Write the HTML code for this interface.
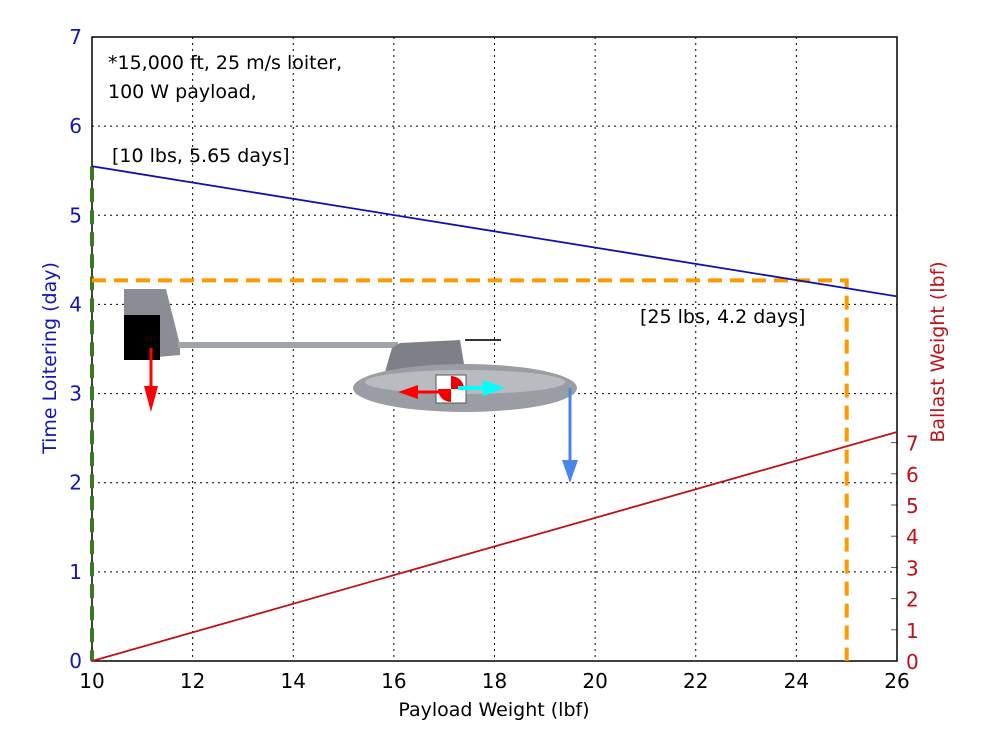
<!DOCTYPE html>
<html><head><meta charset="utf-8"><style>body{margin:0;background:#fff}svg{display:block;font-family:"DejaVu Sans","Liberation Sans",sans-serif}</style></head>
<body>
<svg id="c" width="1006" height="733"></svg>
<script>
const xTicks=[10,12,14,16,18,20,22,24,26];
const yTicks=[0,1,2,3,4,5,6,7];
const y2Ticks=[0,1,2,3,4,5,6,7];
const payload=[10,26];
const loiter=[5.55,4.09];
const ballast=[0,7.34];
const marker=[25,4.27];
const L=92,R=897,T=37,B=661;
const X=v=>L+(v-10)/16*(R-L);
const Y=v=>B-v/7*(B-T);
const Y2=v=>B-v/20*(B-T);
const s=document.getElementById('c');const NS='http://www.w3.org/2000/svg';
function mk(t,a,txt){const e=document.createElementNS(NS,t);for(const k in a)e.setAttribute(k,a[k]);if(txt!==undefined)e.textContent=txt;s.appendChild(e);return e;}
xTicks.forEach(v=>{let e=mk('line',{x1:X(v),x2:X(v),y1:T,y2:B,stroke:'#000','stroke-dasharray':'2,4','stroke-width':1});

e=mk('text',{x:X(v),y:B+27,'text-anchor':'middle','font-size':20,fill:'#000'},v);
});
yTicks.forEach(v=>{let e=mk('line',{x1:L,x2:R,y1:Y(v),y2:Y(v),stroke:'#000','stroke-dasharray':'2,4','stroke-width':1});

e=mk('text',{x:L-10,y:Y(v)+7,'text-anchor':'end','font-size':20,fill:'#1515b0'},v);
});
y2Ticks.forEach(v=>{let e=mk('line',{x1:R-6,x2:R,y1:Y2(v),y2:Y2(v),stroke:'#555'});

e=mk('text',{x:R+9,y:Y2(v)+8,'font-size':20,fill:'#c01018'},v);
});
let e=mk('rect',{x:L,y:T,width:R-L,height:B-T,fill:'none',stroke:'#000','stroke-width':1.5});

</script>
<script>
(function(){const s=document.getElementById('c');const NS='http://www.w3.org/2000/svg';
const g=document.createElementNS(NS,'g');s.appendChild(g);
const add=(t,a)=>{const e=document.createElementNS(NS,t);for(const k in a)e.setAttribute(k,a[k]);g.appendChild(e);};
add('path',{d:'M124 289 L166 289 L180 345 L180 355 L124 360 Z',fill:'#8a8d93'});
add('rect',{x:124,y:315,width:36,height:45,fill:'#000'});
add('rect',{x:178,y:342,width:220,height:6,fill:'#a0a3a8'});
add('path',{d:'M392 348 L400 343 L460 340 L465 370 L385 372 Z',fill:'#7d8087'});
add('rect',{x:465,y:339,width:36,height:2,fill:'#333'});
add('ellipse',{cx:465,cy:388,rx:112,ry:24,fill:'#9a9da3'});
add('ellipse',{cx:465,cy:382,rx:100,ry:12,fill:'#b8bbc0'});
add('rect',{x:436,y:375,width:30,height:28,fill:'#fff',stroke:'#555'});
add('path',{d:'M451 376 A13 13 0 0 1 464 389 L451 389 Z',fill:'#e00'});
add('path',{d:'M451 402 A13 13 0 0 1 438 389 L451 389 Z',fill:'#e00'});
add('path',{d:'M151 348 L151 390',stroke:'#f00','stroke-width':3});
add('path',{d:'M144 386 L158 386 L151 412 Z',fill:'#f00'});
add('path',{d:'M450 392 L415 392',stroke:'#f00','stroke-width':3});
add('path',{d:'M418 385 L418 399 L398 392 Z',fill:'#f00'});
add('path',{d:'M458 388 L485 388',stroke:'#0ff','stroke-width':4});
add('path',{d:'M483 380 L483 396 L505 388 Z',fill:'#0ff'});
add('path',{d:'M570 388 L570 462',stroke:'#4a86e8','stroke-width':3});
add('path',{d:'M562 460 L578 460 L570 483 Z',fill:'#4a86e8'});
})();
</script>
<script>
(function(){const s=document.getElementById('c');const NS='http://www.w3.org/2000/svg';
function mk(t,a,txt){const e=document.createElementNS(NS,t);for(const k in a)e.setAttribute(k,a[k]);if(txt!==undefined)e.textContent=txt;s.appendChild(e);return e;}
let e=mk('line',{x1:X(10),y1:Y(loiter[0]),x2:X(10),y2:B,stroke:'#3a7a20','stroke-width':4,'stroke-dasharray':'14,8'});

e=mk('polyline',{points:`${X(10)},${Y(marker[1])} ${X(marker[0])},${Y(marker[1])} ${X(marker[0])},${B}`,fill:'none',stroke:'#ff9900','stroke-width':4,'stroke-dasharray':'14,8'});

e=mk('polyline',{points:payload.map((p,i)=>X(p)+','+Y(loiter[i])).join(' '),fill:'none',stroke:'#1010b0','stroke-width':1.8});

e=mk('polyline',{points:payload.map((p,i)=>X(p)+','+Y2(ballast[i])).join(' '),fill:'none',stroke:'#c01018','stroke-width':1.8});

e=mk('text',{x:108,y:69,'font-size':19,fill:'#000'},'*15,000 ft, 25 m/s loiter,');

e=mk('text',{x:108,y:98,'font-size':19,fill:'#000'},'100 W payload,');

e=mk('text',{x:112,y:162,'font-size':19,fill:'#000'},'[10 lbs, 5.65 days]');

e=mk('text',{x:640,y:323,'font-size':19,fill:'#000'},'[25 lbs, 4.2 days]');

e=mk('text',{x:494,y:716,'text-anchor':'middle','font-size':19,fill:'#000'},'Payload Weight (lbf)');

e=mk('text',{x:0,y:0,'text-anchor':'middle','font-size':19,fill:'#1515b0',transform:'translate(56,358) rotate(-90)'},'Time Loitering (day)');

e=mk('text',{x:0,y:0,'text-anchor':'middle','font-size':19,fill:'#c01018',transform:'translate(944,352) rotate(-90)'},'Ballast Weight (lbf)');

})();
</script>
</body></html>
